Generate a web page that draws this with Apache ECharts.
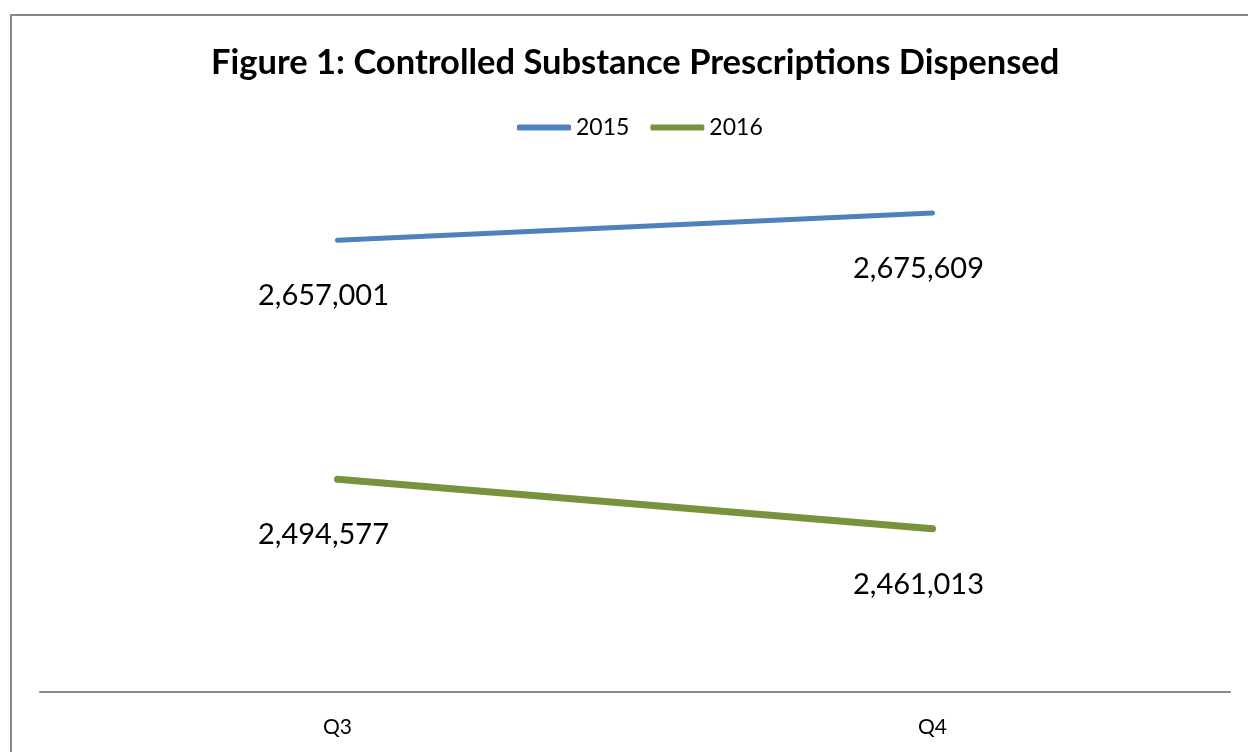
<!DOCTYPE html>
<html>
<head>
<meta charset="utf-8">
<script src="https://cdn.jsdelivr.net/npm/echarts@6/dist/echarts.min.js"></script>
<style>
html,body{margin:0;padding:0;background:#fff;}
#chart{width:1248px;height:752px;}
</style>
</head>
<body>
<div id="chart"></div>
<script>
const titleText = 'Figure 1: Controlled Substance Prescriptions Dispensed';
const categories = ['Q3', 'Q4'];
const seriesNames = ['2015', '2016'];
const values2015 = [2657001, 2675609];
const values2016 = [2494577, 2461013];

const chart = echarts.init(document.getElementById('chart'));
const fmt = v => v.toLocaleString('en-US');
const font = 'Lato, "Open Sans", sans-serif';

function lineSeries(name, data, color, width) {
  return {
    name: name,
    type: 'line',
    data: data,
    symbol: 'circle',
    symbolSize: 0.01,
    showSymbol: true,
    lineStyle: { color: color, width: width, cap: 'round' },
    itemStyle: { color: color },
    label: {
      show: true,
      position: 'bottom',
      distance: 41,
      offset: [-14, 0],
      formatter: p => fmt(p.value),
      fontFamily: font,
      fontSize: 29,
      color: '#000'
    },
    emphasis: { disabled: true },
    animation: false
  };
}

chart.setOption({
  animation: false,
  backgroundColor: '#fff',
  title: {
    text: titleText,
    left: 206,
    top: 40,
    textStyle: { fontFamily: font, fontWeight: 'bold', fontSize: 34.5, color: '#000' }
  },
  legend: {
    data: seriesNames,
    top: 111,
    left: 512,
    icon: 'roundRect',
    itemWidth: 54,
    itemHeight: 6,
    itemGap: 21,
    textStyle: { fontFamily: font, fontSize: 23, color: '#000' }
  },
  graphic: [{
    type: 'rect',
    shape: { x: 11, y: 15, width: 1400, height: 900 },
    style: { fill: 'none', stroke: '#888', lineWidth: 2 },
    silent: true
  }],
  grid: { left: 40, right: 18, top: 177, bottom: 60 },
  xAxis: {
    type: 'category',
    data: categories,
    boundaryGap: true,
    axisLine: { lineStyle: { color: '#888', width: 2 } },
    axisTick: { show: false },
    axisLabel: { fontFamily: font, fontSize: 21, color: '#000', margin: 25 }
  },
  yAxis: {
    type: 'value',
    min: 2350000,
    max: 2700000,
    show: false,
    splitLine: { show: false }
  },
  series: [
    lineSeries(seriesNames[0], values2015, '#4F81BD', 5),
    lineSeries(seriesNames[1], values2016, '#77933C', 7)
  ]
});
</script>
</body>
</html>
